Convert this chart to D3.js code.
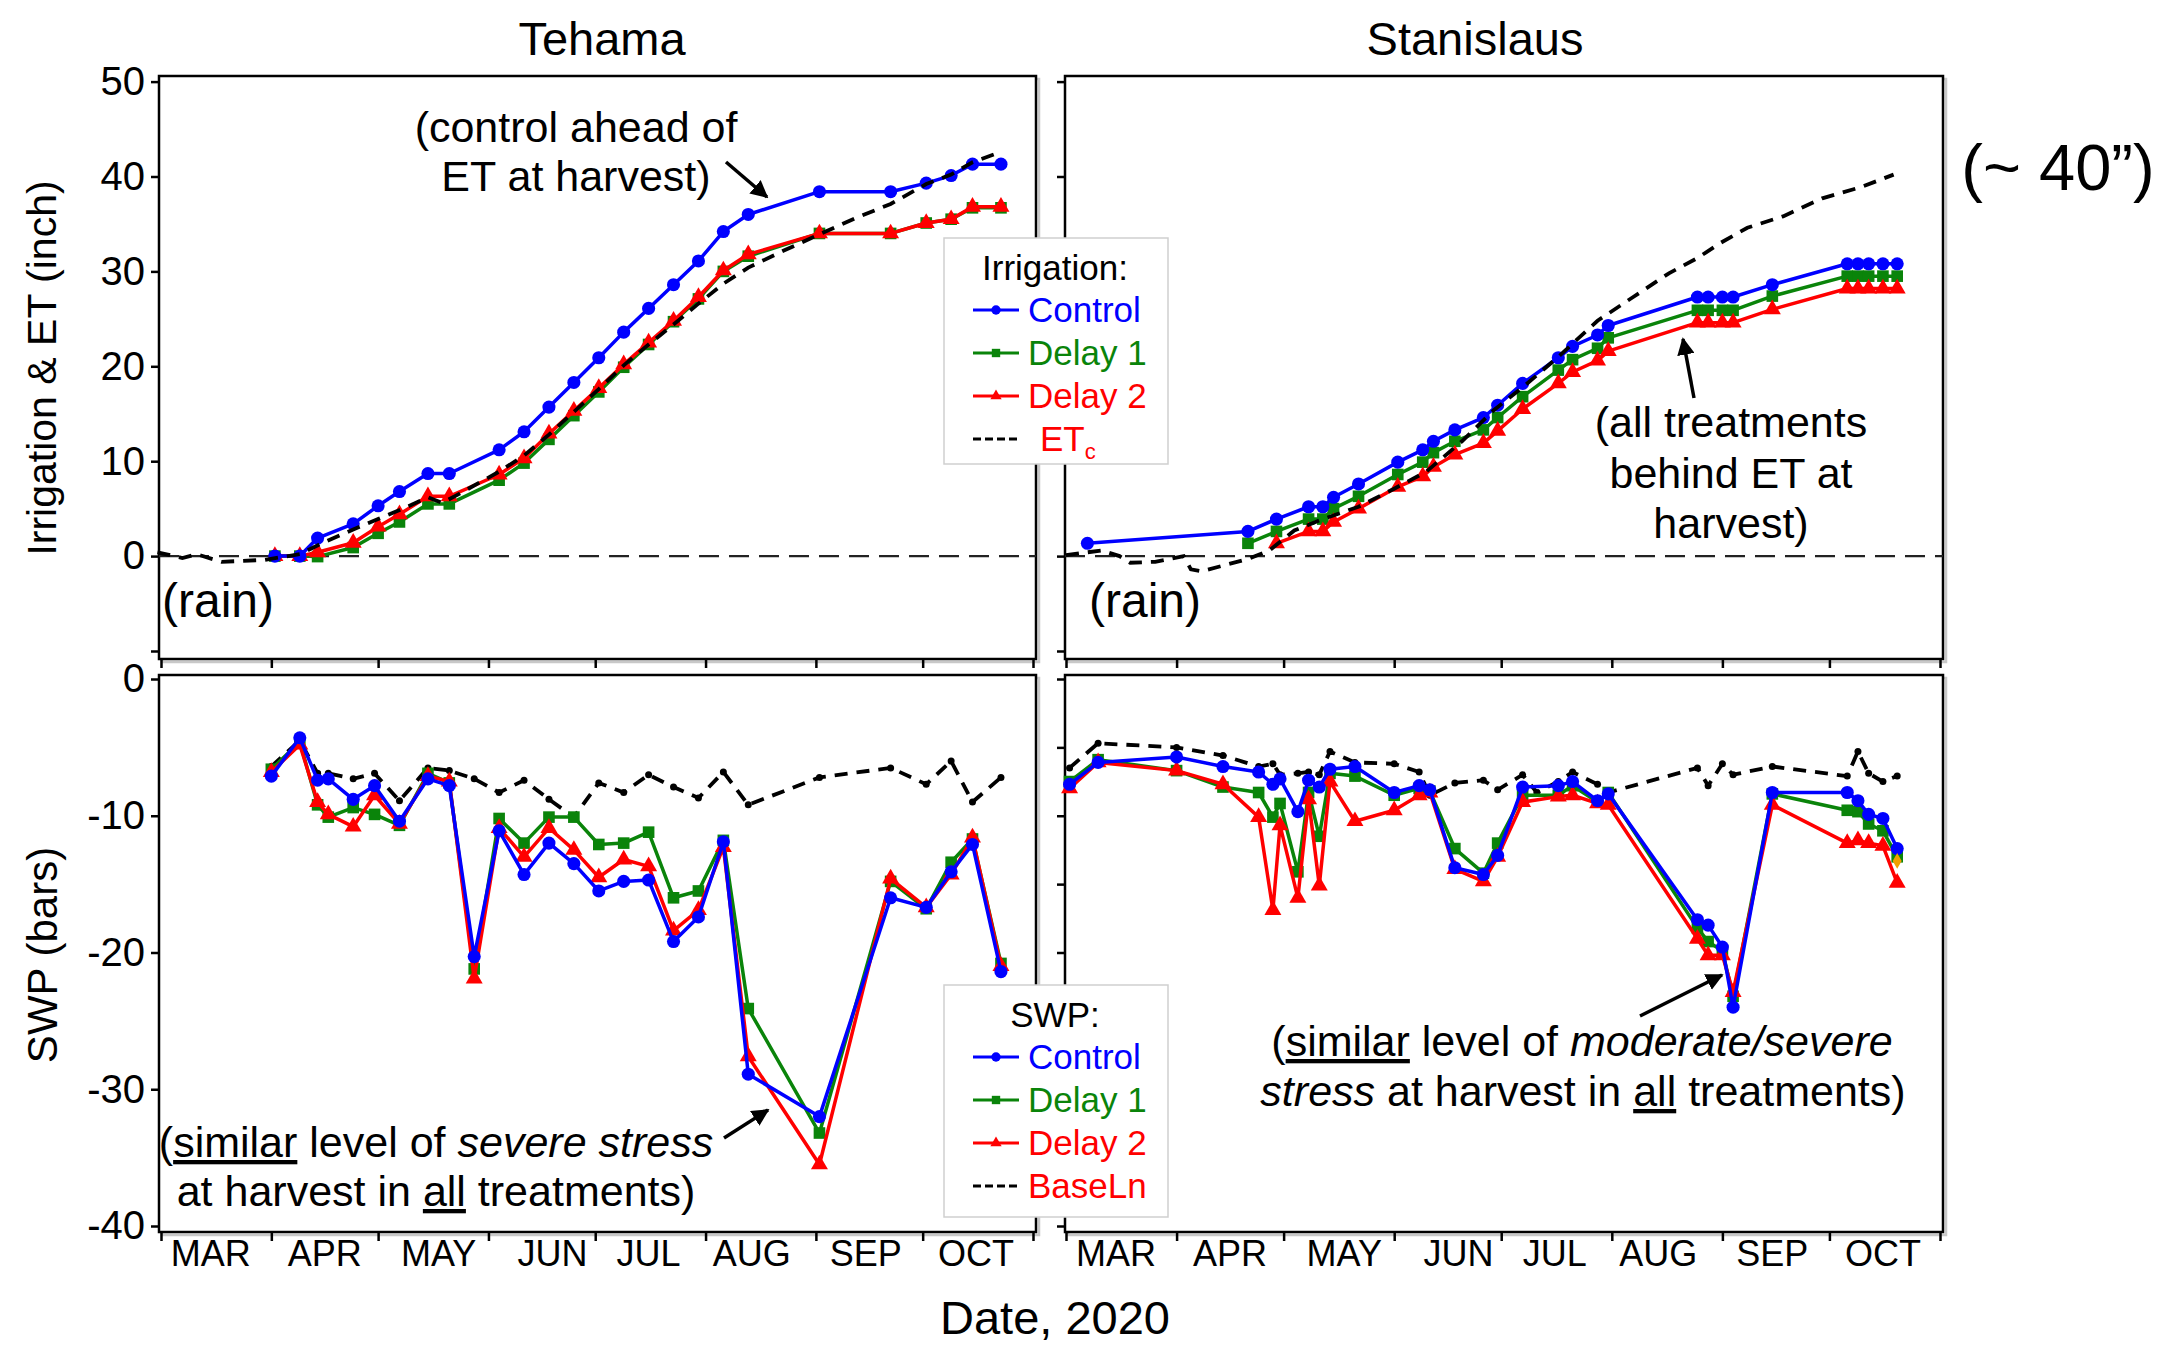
<!DOCTYPE html>
<html><head><meta charset="utf-8">
<script src="https://cdn.jsdelivr.net/npm/d3@7"></script>
<style>
body{margin:0;background:#fff;}
svg{display:block;font-family:"Liberation Sans",Arial,Helvetica,sans-serif;}
</style></head><body>
<svg id="c" width="2176" height="1355"></svg>
<script>
// ---------------- DATA ----------------
const monthLabels = ["MAR","APR","MAY","JUN","JUL","AUG","SEP","OCT"];
const monthLabelDates = ["03-15","04-16","05-18","06-19","07-16","08-14","09-15","10-16"];
const irrTicks = [-10,0,10,20,30,40,50];
const swpTicks = [0,-10,-20,-30,-40];
const swpMinorTicks = [0,-5,-10,-15,-20,-25,-30,-35,-40];

// Tehama irrigation (cumulative, inch)
const tehIrrDates = ["04-02","04-09","04-14","04-24","05-01","05-07","05-15","05-21","06-04","06-11","06-18","06-25","07-02","07-09","07-16","07-23","07-30","08-06","08-13","09-02","09-22","10-02","10-09","10-15","10-23"];
const tehIrrControl = [0,0,1.9,3.4,5.3,6.8,8.7,8.7,11.2,13.1,15.7,18.3,20.9,23.6,26.1,28.6,31.1,34.2,36.0,38.4,38.4,39.3,40.1,41.3,41.3];
const tehIrrDelay1  = [0,0,-0.05,0.9,2.4,3.6,5.5,5.5,8.0,9.8,12.3,14.8,17.3,19.9,22.3,24.7,27.1,30.0,31.6,34.0,34.0,35.1,35.5,36.7,36.7];
const tehIrrDelay2  = [0,0,0.4,1.4,3.1,4.4,6.3,6.3,8.6,10.3,12.9,15.3,17.7,20.2,22.5,24.8,27.3,30.1,31.8,34.0,34.0,35.1,35.5,36.8,36.8];
const tehEtcDates = ["02-29","03-07","03-11","03-18","03-24","03-30","04-09","04-16","04-24","05-01","05-08","05-15","05-19","05-23","06-04","06-11","06-18","06-25","07-02","07-09","07-16","07-23","07-30","08-06","08-13","08-23","09-02","09-12","09-22","10-02","10-09","10-15","10-23"];
const tehEtc = [0.4,-0.2,0.2,-0.6,-0.5,-0.4,0.2,1.5,2.8,3.9,5.0,6.2,5.6,6.4,8.9,10.6,12.8,15.2,17.6,20.1,22.3,24.4,26.6,28.7,30.4,32.2,33.9,35.6,37.1,39.2,40.2,41.5,42.6];

// Stanislaus irrigation
const stanIrrControlDates = ["03-07","04-21","04-29","05-08","05-12","05-15","05-22","06-02","06-09","06-12","06-18","06-26","06-30","07-07","07-17","07-21","07-28","07-31","08-25","08-28","09-01","09-04","09-15","10-06","10-09","10-12","10-16","10-20"];
const stanIrrControl = [1.35,2.6,3.9,5.2,5.2,6.2,7.6,9.9,11.2,12.1,13.3,14.6,15.9,18.2,20.9,22.1,23.3,24.3,27.3,27.3,27.3,27.3,28.6,30.8,30.8,30.8,30.8,30.8];
const stanIrrDelay1Dates = ["04-21","04-29","05-08","05-12","05-15","05-22","06-02","06-09","06-12","06-18","06-26","06-30","07-07","07-17","07-21","07-28","07-31","08-25","08-28","09-01","09-04","09-15","10-06","10-09","10-12","10-16","10-20"];
const stanIrrDelay1 = [1.35,2.6,3.9,3.9,5.0,6.3,8.6,9.9,10.9,12.1,13.3,14.6,16.8,19.6,20.7,21.9,23.0,25.9,25.9,25.9,25.9,27.4,29.5,29.5,29.5,29.5,29.5];
const stanIrrDelay2Dates = ["04-29","05-08","05-12","05-15","05-22","06-02","06-09","06-12","06-18","06-26","06-30","07-07","07-17","07-21","07-28","07-31","08-25","08-28","09-01","09-04","09-15","10-06","10-09","10-12","10-16","10-20"];
const stanIrrDelay2 = [1.35,2.6,2.6,3.6,5.0,7.3,8.4,9.4,10.7,11.9,13.2,15.5,18.2,19.4,20.6,21.6,24.6,24.6,24.6,24.6,26.0,28.2,28.2,28.2,28.2,28.2];
const stanEtcDates = ["03-01","03-11","03-16","03-19","03-26","04-03","04-05","04-08","04-14","04-21","04-27","05-04","05-12","05-22","06-01","06-10","06-20","06-29","07-08","07-17","07-28","08-07","08-17","08-25","08-31","09-08","09-18","09-29","10-10","10-19"];
const stanEtc = [0.1,0.6,0,-0.7,-0.6,0,-1.4,-1.6,-1.0,-0.3,0.6,2.7,3.9,5.2,7.1,8.9,12.1,15.4,18.1,21.0,24.8,27.3,29.8,31.4,32.9,34.6,35.8,37.7,38.9,40.2];

// Tehama SWP (bars)
const tehSwpDates = ["04-01","04-09","04-14","04-17","04-24","04-30","05-07","05-15","05-21","05-28","06-04","06-11","06-18","06-25","07-02","07-09","07-16","07-23","07-30","08-06","08-13","09-02","09-22","10-02","10-09","10-15","10-23"];
const tehSwpControl = [-7.1,-4.3,-7.4,-7.3,-8.8,-7.8,-10.4,-7.3,-7.8,-20.3,-11.1,-14.3,-12.0,-13.5,-15.5,-14.8,-14.7,-19.2,-17.4,-11.9,-28.9,-32.0,-16.0,-16.7,-14.1,-12.1,-21.4];
const tehSwpDelay1  = [-6.6,-4.6,-9.2,-10.1,-9.4,-9.9,-10.7,-6.9,-7.6,-21.2,-10.2,-12.0,-10.1,-10.1,-12.1,-12.0,-11.2,-16.0,-15.5,-11.8,-24.1,-33.2,-14.8,-16.8,-13.4,-11.7,-20.8];
const tehSwpDelay2  = [-6.8,-4.8,-9.0,-9.9,-10.8,-8.5,-10.6,-7.1,-7.5,-21.9,-10.9,-13.0,-10.9,-12.5,-14.5,-13.2,-13.7,-18.4,-16.9,-12.3,-27.6,-35.5,-14.6,-16.7,-14.3,-11.6,-21.0];
const tehSwpBase    = [-6.4,-4.5,-6.9,-6.9,-7.3,-6.9,-8.9,-6.5,-6.7,-7.3,-8.3,-7.4,-8.8,-10.1,-7.6,-8.3,-7.0,-7.9,-8.7,-6.8,-9.2,-7.2,-6.5,-7.7,-6.0,-9.0,-7.2];

// Stanislaus SWP
const stanSwpDates = ["03-02","03-10","04-01","04-14","04-24","04-28","04-30","05-05","05-08","05-11","05-14","05-21","06-01","06-08","06-11","06-18","06-26","06-30","07-07","07-17","07-21","07-28","07-31","08-25","08-28","09-01","09-04","09-15","10-06","10-09","10-12","10-16","10-20"];
const stanSwpControl = [-7.7,-6.1,-5.7,-6.4,-6.8,-7.7,-7.3,-9.7,-7.4,-7.9,-6.6,-6.4,-8.3,-7.8,-8.1,-13.8,-14.3,-12.9,-7.9,-7.8,-7.5,-8.9,-8.4,-17.6,-18.0,-19.6,-24.0,-8.3,-8.3,-8.9,-9.9,-10.2,-12.4];
const stanSwpDelay1  = [-7.5,-5.9,-6.7,-7.9,-8.3,-10.1,-9.1,-14.1,-8.3,-11.5,-6.9,-7.1,-8.5,-8.0,-8.2,-12.4,-14.2,-12.0,-8.5,-8.5,-7.8,-9.0,-8.3,-18.2,-19.2,-19.9,-23.2,-8.4,-9.6,-9.7,-10.6,-11.1,-13.0];
const stanSwpDelay2  = [-8.0,-6.1,-6.7,-7.7,-10.1,-16.9,-10.7,-16.0,-8.8,-15.1,-7.5,-10.4,-9.6,-8.5,-8.3,-13.9,-14.8,-13.0,-9.0,-8.6,-8.5,-9.1,-9.2,-19.0,-20.2,-20.2,-22.9,-9.2,-12.0,-11.8,-12.0,-12.2,-14.9];
const stanSwpBaseDates = ["03-02","03-10","04-01","04-14","04-24","04-28","04-30","05-05","05-08","05-11","05-14","05-21","06-01","06-08","06-11","06-18","06-26","06-30","07-07","07-11","07-17","07-21","07-28","07-31","08-25","08-28","09-01","09-04","09-15","10-06","10-09","10-12","10-16","10-20"];
const stanSwpBase = [-6.5,-4.7,-5.0,-5.6,-6.4,-6.2,-7.0,-6.9,-6.8,-7.0,-5.3,-6.1,-6.2,-6.8,-8.5,-7.6,-7.4,-8.1,-7.0,-8.3,-7.5,-6.8,-7.7,-8.3,-6.5,-7.8,-6.2,-7.0,-6.4,-7.1,-5.3,-6.9,-7.5,-7.1];
const stanSwpExtraDates = ["10-20"];
const stanSwpExtra = [-13.3];

// ---------------- DRAWING ----------------
const BLUE="#0000ff", GREEN="#0a840a", RED="#ff0000";
const P = s => new Date(2020, +s.slice(0,2)-1, +s.slice(3,5));
const svg = d3.select("#c");
svg.append("rect").attr("width",2176).attr("height",1355).attr("fill","#fff");

const panels = {
  TL:{x:159,y:76,w:877,h:583}, TR:{x:1065,y:76,w:878,h:583},
  BL:{x:159,y:675,w:877,h:557}, BR:{x:1065,y:675,w:878,h:557}
};
const monthStarts = d3.range(2,11).map(m=>new Date(2020,m,1));
const xL = d3.scaleTime().domain([new Date(2020,2,1), new Date(2020,10,1)]).range([161,1033]);
const xR = d3.scaleTime().domain([new Date(2020,2,1), new Date(2020,10,1)]).range([1066,1940]);
const yTop = d3.scaleLinear().domain([0,50]).range([556.1,81.6]);
const yBot = d3.scaleLinear().domain([-40,0]).range([1226,679]);

// frames with shadow
Object.values(panels).forEach(p=>{
  svg.append("rect").attr("x",p.x+3).attr("y",p.y+3).attr("width",p.w).attr("height",p.h)
     .attr("fill","none").attr("stroke","#c8c8c8").attr("stroke-width",2.5);
  svg.append("rect").attr("x",p.x).attr("y",p.y).attr("width",p.w).attr("height",p.h)
     .attr("fill","#fff").attr("stroke","#000").attr("stroke-width",2.5);
});

function styleAxis(g, fs){
  g.select(".domain").remove();
  g.attr("font-family",null);
  g.selectAll(".tick line").attr("stroke","#000").attr("stroke-width",2.5);
  g.selectAll(".tick text").attr("font-size",fs).attr("fill","#000");
}
const fmt = d => String(d);
// y axes
styleAxis(svg.append("g").attr("transform",`translate(${panels.TL.x},0)`)
  .call(d3.axisLeft(yTop).tickValues(irrTicks).tickSize(8).tickPadding(6).tickFormat(d=>d===-10?"":fmt(d))),40);
styleAxis(svg.append("g").attr("transform",`translate(${panels.TR.x},0)`)
  .call(d3.axisLeft(yTop).tickValues(irrTicks).tickSize(8).tickFormat("")),40);
styleAxis(svg.append("g").attr("transform",`translate(${panels.BL.x},0)`)
  .call(d3.axisLeft(yBot).tickValues(swpTicks).tickSize(8).tickPadding(6).tickFormat(fmt)),40);
styleAxis(svg.append("g").attr("transform",`translate(${panels.BR.x},0)`)
  .call(d3.axisLeft(yBot).tickValues(swpMinorTicks).tickSize(8).tickFormat("")),40);
// x axes (ticks)
[[xL,panels.TL],[xR,panels.TR],[xL,panels.BL],[xR,panels.BR]].forEach(([x,p])=>{
  styleAxis(svg.append("g").attr("transform",`translate(0,${p.y+p.h})`)
    .call(d3.axisBottom(x).tickValues(monthStarts).tickSize(9).tickFormat("")),30);
});
// month labels
[xL,xR].forEach(x=>{
  svg.append("g").selectAll("text").data(monthLabels).enter().append("text")
    .attr("x",(d,i)=>x(P(monthLabelDates[i])))
    .attr("y",1266).attr("text-anchor","middle").attr("font-size",36).text(d=>d);
});

// zero dashed lines
[[xL,panels.TL],[xR,panels.TR]].forEach(([x,p])=>{
  svg.append("line").attr("x1",p.x).attr("x2",p.x+p.w).attr("y1",yTop(0)).attr("y2",yTop(0))
    .attr("stroke","#222").attr("stroke-width",2.2).attr("stroke-dasharray","20,10");
});

function series(x,y,dates,vals,color,shape,size){
  const pts = dates.map((d,i)=>({d:P(d),v:vals[i]}));
  const g = svg.append("g");
  g.append("path").datum(pts).attr("d",d3.line().x(p=>x(p.d)).y(p=>y(p.v)))
    .attr("fill","none").attr("stroke",color).attr("stroke-width",3.5).attr("stroke-linejoin","round");
  g.selectAll(null).data(pts).enter().append("path")
    .attr("transform",p=>`translate(${x(p.d)},${y(p.v)})`)
    .attr("d",d3.symbol().type(shape).size(size)).attr("fill",color);
}
function dashed(x,y,dates,vals,dots){
  const pts = dates.map((d,i)=>({d:P(d),v:vals[i]}));
  const g = svg.append("g");
  g.append("path").datum(pts).attr("d",d3.line().x(p=>x(p.d)).y(p=>y(p.v)))
    .attr("fill","none").attr("stroke","#000").attr("stroke-width",3.8).attr("stroke-dasharray","13,9");
  if(dots) g.selectAll(null).data(pts).enter().append("circle")
    .attr("cx",p=>x(p.d)).attr("cy",p=>y(p.v)).attr("r",3.5).attr("fill","#000");
}
const SQ=135, CI=135, TRI=125;
// Tehama irrigation
series(xL,yTop,tehIrrDates,tehIrrDelay1,GREEN,d3.symbolSquare,SQ);
series(xL,yTop,tehIrrDates,tehIrrDelay2,RED,d3.symbolTriangle,TRI);
series(xL,yTop,tehIrrDates,tehIrrControl,BLUE,d3.symbolCircle,CI);
dashed(xL,yTop,tehEtcDates,tehEtc,false);
// Stanislaus irrigation
series(xR,yTop,stanIrrDelay1Dates,stanIrrDelay1,GREEN,d3.symbolSquare,SQ);
series(xR,yTop,stanIrrDelay2Dates,stanIrrDelay2,RED,d3.symbolTriangle,TRI);
series(xR,yTop,stanIrrControlDates,stanIrrControl,BLUE,d3.symbolCircle,CI);
dashed(xR,yTop,stanEtcDates,stanEtc,false);
// Tehama SWP
dashed(xL,yBot,tehSwpDates,tehSwpBase,true);
series(xL,yBot,tehSwpDates,tehSwpDelay1,GREEN,d3.symbolSquare,SQ);
series(xL,yBot,tehSwpDates,tehSwpDelay2,RED,d3.symbolTriangle,TRI);
series(xL,yBot,tehSwpDates,tehSwpControl,BLUE,d3.symbolCircle,CI);
// Stanislaus SWP
dashed(xR,yBot,stanSwpBaseDates,stanSwpBase,true);
series(xR,yBot,stanSwpDates,stanSwpDelay1,GREEN,d3.symbolSquare,SQ);
series(xR,yBot,stanSwpDates,stanSwpDelay2,RED,d3.symbolTriangle,TRI);
series(xR,yBot,stanSwpDates,stanSwpControl,BLUE,d3.symbolCircle,CI);
svg.append("g").selectAll(null).data(stanSwpExtraDates).enter().append("path")
  .attr("transform",(d,i)=>`translate(${xR(P(d))},${yBot(stanSwpExtra[i])})`)
  .attr("d",d3.symbol().type(d3.symbolDiamond).size(70)).attr("fill","#f0a000");

// ---------------- TEXT ----------------
function txt(x,y,s,fs,anchor){
  const t = svg.append("text").attr("x",x).attr("y",y).attr("font-size",fs)
    .attr("text-anchor",anchor||"middle").attr("fill","#000");
  if(typeof s==="string") t.text(s);
  else s.forEach(part=>{
    const ts=t.append("tspan").text(part.t);
    if(part.i) ts.attr("font-style","italic");
    if(part.u) ts.attr("text-decoration","underline");
  });
  return t;
}
txt(602,55,"Tehama",47);
txt(1475,55,"Stanislaus",47);
txt(2058,190,"(~ 40\u201D)",65);
txt(1055,1334,"Date, 2020",47);
svg.append("text").attr("transform","translate(42,368) rotate(-90)").attr("text-anchor","middle")
  .attr("dominant-baseline","central").attr("font-size",41).text("Irrigation & ET (inch)");
svg.append("text").attr("transform","translate(42,955) rotate(-90)").attr("text-anchor","middle")
  .attr("dominant-baseline","central").attr("font-size",42).text("SWP (bars)");

txt(162,617,"(rain)",48,"start");
txt(1089,617,"(rain)",48,"start");
txt(576,142,"(control ahead of",43);
txt(576,191,"ET at harvest)",43);
txt(1731,437,"(all treatments",43);
txt(1731,488,"behind ET at",43);
txt(1731,538,"harvest)",43);
txt(436,1157,[{t:"("},{t:"similar",u:1},{t:" level of "},{t:"severe stress",i:1}],43);
txt(436,1206,[{t:"at harvest in "},{t:"all",u:1},{t:" treatments)"}],43);
txt(1582,1056,[{t:"("},{t:"similar",u:1},{t:" level of "},{t:"moderate/severe",i:1}],43);
txt(1583,1106,[{t:"stress",i:1},{t:" at harvest in "},{t:"all",u:1},{t:" treatments)"}],43);

// arrows
const defs = svg.append("defs");
defs.append("marker").attr("id","ah").attr("viewBox","0 0 10 10").attr("refX",9).attr("refY",5)
  .attr("markerWidth",5).attr("markerHeight",5).attr("orient","auto")
  .append("path").attr("d","M0,0 L10,5 L0,10 z").attr("fill","#000");
[[726,162,767,197],[1694,398,1683,339],[724,1138,768,1110],[1640,1016,1722,975]].forEach(a=>{
  svg.append("line").attr("x1",a[0]).attr("y1",a[1]).attr("x2",a[2]).attr("y2",a[3])
    .attr("stroke","#000").attr("stroke-width",3.5).attr("marker-end","url(#ah)");
});

// legends
function legend(y0,h,title,items){
  const g = svg.append("g");
  g.append("rect").attr("x",944).attr("y",y0).attr("width",224).attr("height",h)
    .attr("fill","#fff").attr("stroke","#cfcfcf").attr("stroke-width",1.5);
  g.append("text").attr("x",1055).attr("y",y0+42).attr("text-anchor","middle").attr("font-size",35).text(title);
  items.forEach((it,i)=>{
    const yy = y0+84+i*43, cy = yy-12;
    if(it.shape){
      g.append("line").attr("x1",973).attr("x2",1019).attr("y1",cy).attr("y2",cy).attr("stroke",it.c).attr("stroke-width",3);
      g.append("path").attr("transform",`translate(996,${cy})`).attr("d",d3.symbol().type(it.shape).size(it.s)).attr("fill",it.c);
      g.append("text").attr("x",1028).attr("y",yy).attr("font-size",35).attr("fill",it.c).text(it.t);
    } else {
      g.append("line").attr("x1",973).attr("x2",1018).attr("y1",cy).attr("y2",cy).attr("stroke","#000").attr("stroke-width",3).attr("stroke-dasharray","8,4");
      const t = g.append("text").attr("x",it.x).attr("y",yy).attr("font-size",35).attr("fill",RED);
      t.append("tspan").text(it.t);
      if(it.sub) t.append("tspan").attr("font-size",22).attr("dy",8).text(it.sub);
    }
  });
}
legend(238,226,"Irrigation:",[
  {t:"Control",c:BLUE,shape:d3.symbolCircle,s:70},
  {t:"Delay 1",c:GREEN,shape:d3.symbolSquare,s:70},
  {t:"Delay 2",c:RED,shape:d3.symbolTriangle,s:55},
  {t:"ET",sub:"c",x:1040}
]);
legend(985,232,"SWP:",[
  {t:"Control",c:BLUE,shape:d3.symbolCircle,s:70},
  {t:"Delay 1",c:GREEN,shape:d3.symbolSquare,s:70},
  {t:"Delay 2",c:RED,shape:d3.symbolTriangle,s:55},
  {t:"BaseLn",x:1028}
]);
</script>
</body></html>
